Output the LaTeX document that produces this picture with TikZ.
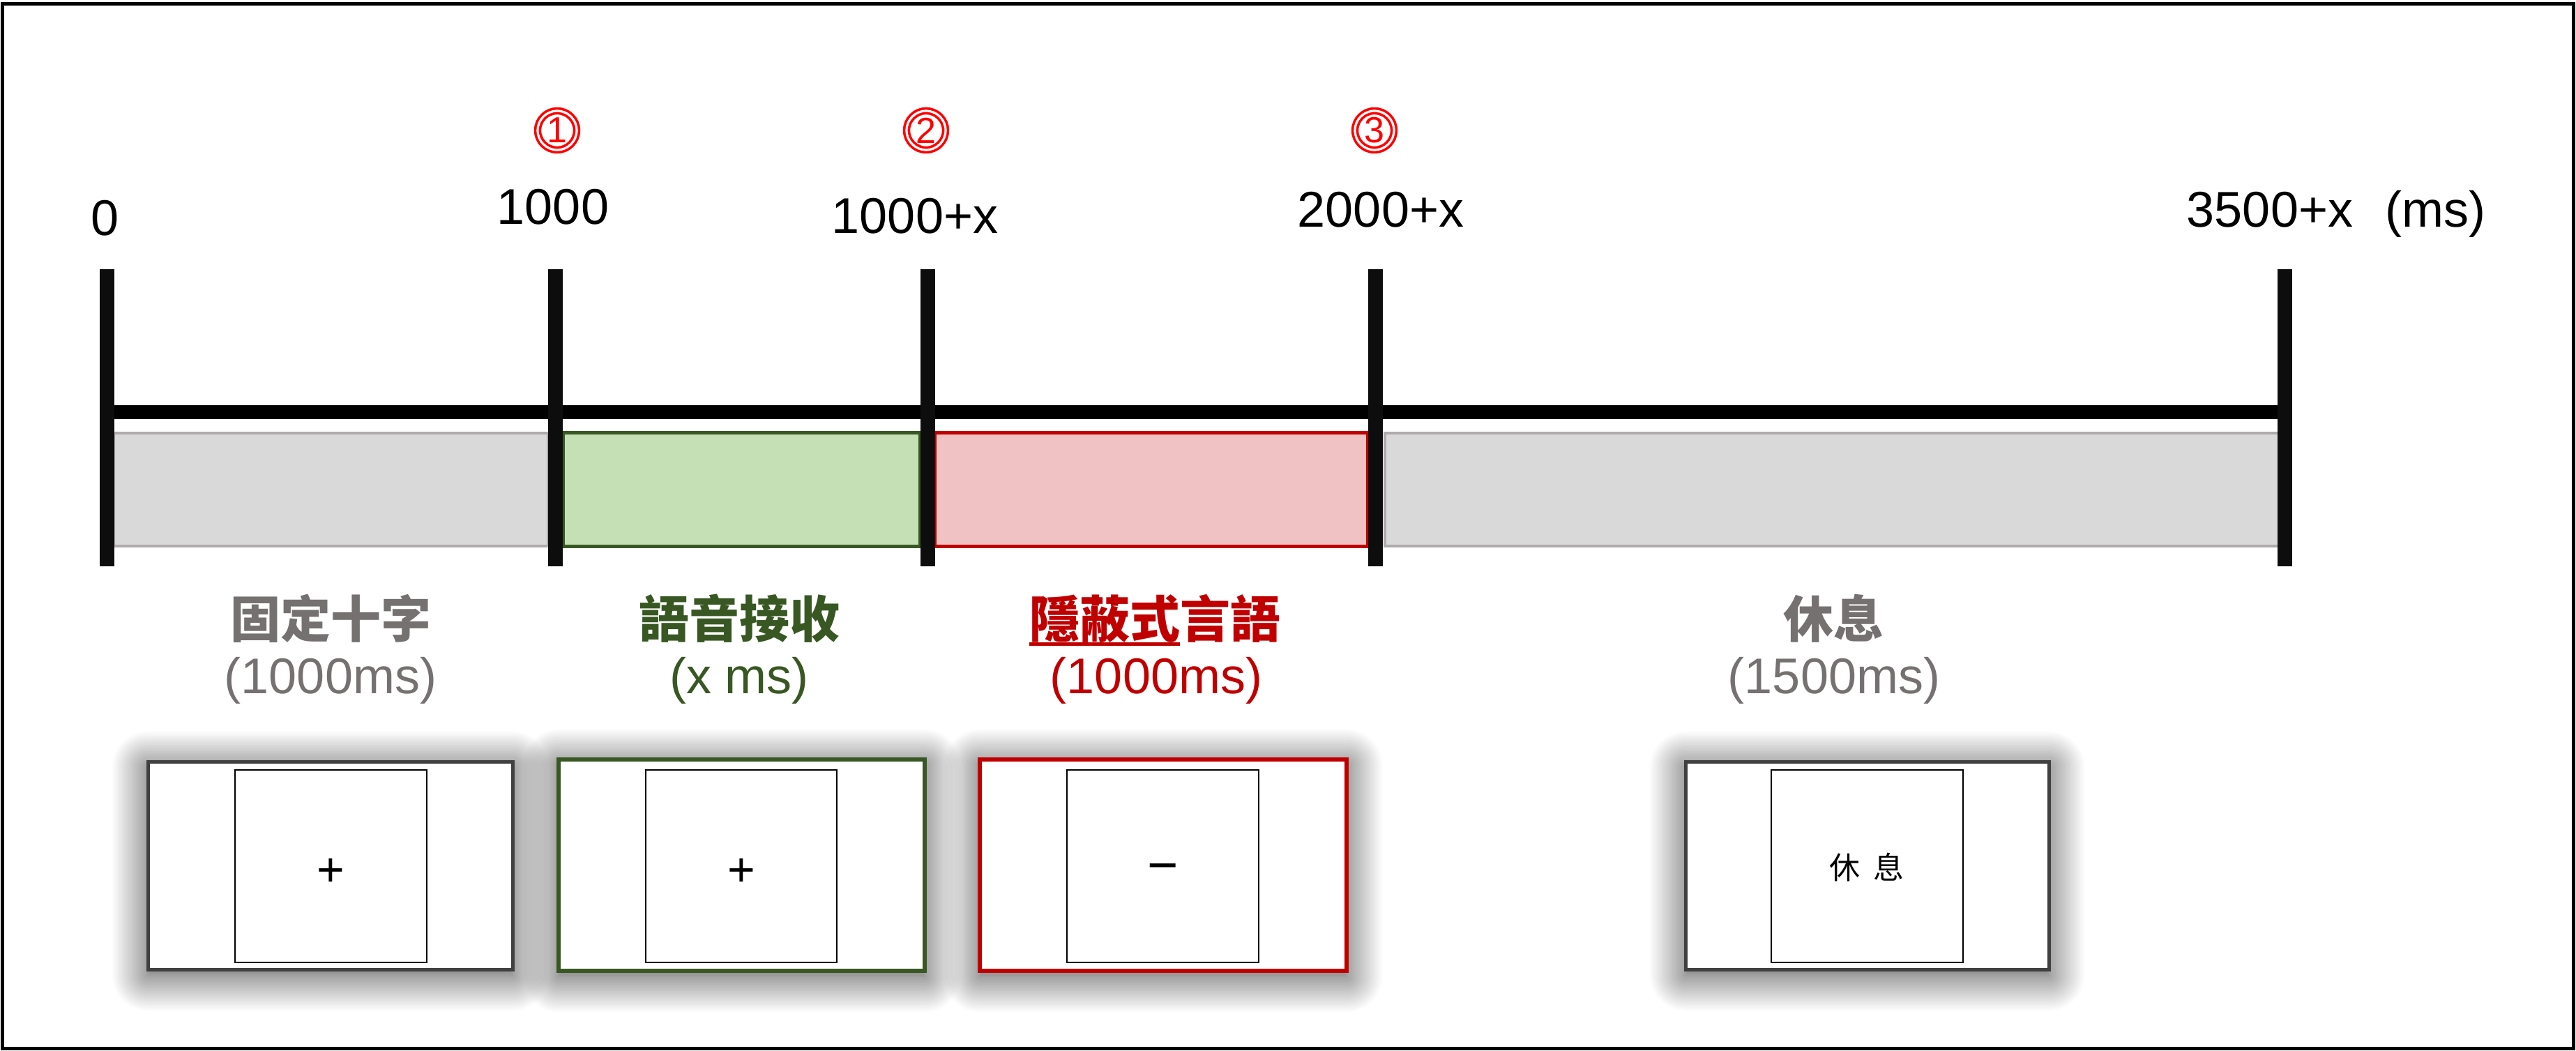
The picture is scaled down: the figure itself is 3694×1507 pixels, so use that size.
\documentclass[tikz,border=0pt]{standalone}
\usepackage{fontspec}
\setmainfont{Liberation Sans}
\newfontfamily\cjk{Noto Sans CJK TC}
\usetikzlibrary{shadows.blur}

\definecolor{restgray}{HTML}{D9D9D9}
\definecolor{restline}{HTML}{AFABAB}
\definecolor{labelgray}{HTML}{767171}
\definecolor{speechgreen}{HTML}{385723}
\definecolor{speechfill}{HTML}{C5E0B4}
\definecolor{innerred}{HTML}{C00000}
\definecolor{innerfill}{HTML}{F1C2C4}
\definecolor{screenline}{HTML}{404040}

\tikzset{
    timebar/.style={line width=5pt},
    tickline/.style={line width=5.25pt, draw=black!95},
    ticklabel/.style={anchor=base, inner sep=0pt, font=\fontsize{18}{21}\selectfont},
    marker/.style={circle, draw=red, double=white, double distance=0.8pt, line width=0.9pt,
        text=red, inner sep=0pt, minimum size=14pt, font=\fontsize{13}{15}\selectfont},
    phasename/.style={anchor=base, inner sep=0pt, font=\cjk\bfseries\fontsize{18}{21}\selectfont},
    phasetime/.style={anchor=base, inner sep=0pt, font=\fontsize{18}{21}\selectfont},
    screen/.style={fill=white, line width=1.25pt,
        blur shadow={shadow xshift=0pt, shadow yshift=-2pt, shadow blur radius=13pt,
            shadow blur steps=24, shadow opacity=75}},
    monitor/.style={draw=black, line width=0.5pt},
}

\begin{document}
\begin{tikzpicture}[x=0.25pt, y=-0.25pt]
    \useasboundingbox (0,0) rectangle (3694,1507);
    \draw[line width=1.25pt] (3,6) rectangle (3690,1503);

    % phases on the time line
    \draw[draw=restline, fill=restgray, line width=1pt] (163,621) rectangle (786,783);
    \draw[draw=speechgreen, fill=speechfill, line width=1.25pt] (807,621) rectangle (1319,783);
    \draw[draw=innerred, fill=innerfill, line width=1.25pt] (1340,621) rectangle (1961,783);
    \draw[draw=restline, fill=restgray, line width=1pt] (1986,621) rectangle (3271,783);

    % time line and ticks
    \foreach \x [count=\i from 0] in {153,796,1330,1972,3276} {
        \coordinate (top\i) at (\x,386);
        \coordinate (bar\i) at (\x,591);
        \coordinate (bot\i) at (\x,812);
    }
    \draw[timebar] (bar0) -- (bar4);
    \foreach \i in {0,...,4}
        \draw[tickline] (top\i) -- (bot\i);

    \node[ticklabel] (lab0) at (151,338) {0};
    \node[ticklabel] (lab1) at (793,322) {1000};
    \node[ticklabel] (lab2) at (1312,335) {1000+x};
    \node[ticklabel] (lab3) at (1980,326) {2000+x};
    \node[ticklabel] (lab4) at (3255,326) {3500+x};
    \node[ticklabel] (unit) at (3492,326) {(ms)};

    \node[marker] (mark1) at (799,187) {1};
    \node[marker] (mark2) at (1328,187) {2};
    \node[marker] (mark3) at (1971,187) {3};

    % phase names
    \node[phasename, text=labelgray] (fixname) at (474,914) {固定十字};
    \node[phasetime, text=labelgray] (fixtime) at (474,994) {(1000ms)};
    \node[phasename, text=speechgreen] (speechname) at (1060,914) {語音接收};
    \node[phasetime, text=speechgreen] (speechtime) at (1060,994) {(x ms)};
    \node[phasename, text=innerred] (innername) at (1656,914)
        {\rlap{\rule[-3pt]{3em}{1.25pt}}隱蔽式言語};
    \node[phasetime, text=innerred] (innertime) at (1658,994) {(1000ms)};
    \node[phasename, text=labelgray] (restname) at (2629,914) {休息};
    \node[phasetime, text=labelgray] (resttime) at (2630,994) {(1500ms)};

    % screens
    \draw[screen, draw=screenline] (212,1092) rectangle (735,1390);
    \draw[monitor] (337,1104) rectangle (612,1380);
    \draw[screen, draw=speechgreen, line width=1.5pt] (801,1089) rectangle (1326,1392);
    \draw[monitor] (926,1104) rectangle (1200,1380);
    \draw[screen, draw=innerred, line width=1.5pt] (1405,1089) rectangle (1931,1392);
    \draw[monitor] (1530,1104) rectangle (1805,1380);
    \draw[screen, draw=screenline] (2417,1092) rectangle (2938,1390);
    \draw[monitor] (2540,1104) rectangle (2815,1380);

    \node[anchor=base, inner sep=0pt, font=\fontsize{17}{20}\selectfont] (cross1) at (474,1270) {+};
    \node[anchor=base, inner sep=0pt, font=\fontsize{17}{20}\selectfont] (cross2) at (1063,1270) {+};
    \node[anchor=base, inner sep=0pt, font=\fontsize{19}{22}\selectfont] (dash3) at (1668,1266) {−};
    \node[anchor=base, inner sep=0pt, font=\cjk\fontsize{11}{13}\selectfont] (rest4) at (2677,1260)
        {休\hspace{4.75pt}息};
\end{tikzpicture}
\end{document}
